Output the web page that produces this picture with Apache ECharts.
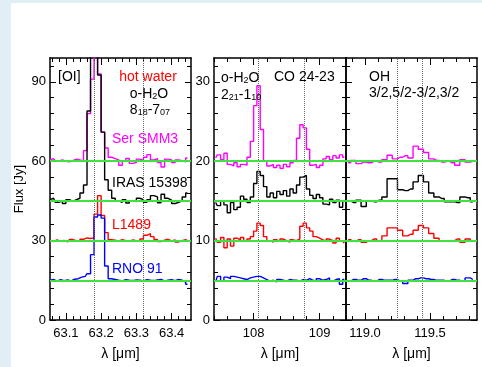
<!DOCTYPE html>
<html><head><meta charset="utf-8">
<script src="https://cdn.jsdelivr.net/npm/echarts@6/dist/echarts.min.js"></script>
<style>html,body{margin:0;padding:0;background:#e1eef6;}#c{width:482px;height:367px;}</style>
</head><body><div id="c"></div>
<script>
// ---------- DATA ----------
// Panel 1: [OI] 63.18 um region (wavelength bin centres, um)
const lam1 = [63.055,63.065,63.075,63.085,63.095,63.105,63.115,63.125,63.135,63.145,
              63.155,63.165,63.175,63.185,63.195,63.205,63.215,63.225,63.235,63.245,
              63.255,63.265,63.275,63.285,63.295,63.305,63.315,63.325,63.335,63.345,
              63.355,63.365,63.375,63.385,63.395,63.405,63.415,63.425,63.435,63.445];
const serSMM3_1 = [60.5,61,60,60.5,60,59.8,60.2,60.8,60.5,60,
                   64,78,91,140,93,71,65,61.5,61,60.5,
                   58.5,60.2,61,59.2,59.5,60.8,60.3,61.5,62.5,60.5,
                   61,59.5,57.8,60.8,60.5,59.5,60.5,60.2,59.8,61.2];
const iras_1    = [45.5,46,44.5,45,44,45.5,44.8,45.5,46,48,
                   51,79,140,140,92.6,71,53,49,46,45,
                   44.5,45.5,44.2,45,44.8,46,45.5,44.5,45.5,47,
                   46.5,44.3,47.5,46,45.3,44,44.5,45,46.5,48];
const l1489_1   = [30.2,29.6,30.3,29.8,30.1,29.5,30.4,30,29.7,30.5,
                   31,30.8,31,40,47,39.5,33,30.3,30.2,29.8,
                   30.4,30,29.7,30.3,30,29.8,30.6,32,32.6,31.5,
                   30.4,29.6,30.2,30.5,29.9,30.3,29.5,30,30.4,29.8];
const rno91_1   = [15,15.3,14.7,15.2,14.9,15.1,14.8,15.4,15.6,16.2,
                   16.5,17.5,24.7,38.9,39.7,38.5,20.4,15.6,15.3,15,
                   14.8,15.2,15,14.9,15.1,15,14.8,15.2,15,14.9,
                   15.1,15.3,14.8,15,15.2,14.9,15.3,15,14.3,13.5];
// Panel 2: o-H2O 2_21-1_10 and CO 24-23
const lam2 = [107.425,107.475,107.525,107.575,107.625,107.675,107.725,107.775,107.825,107.875,
              107.925,107.975,108.025,108.075,108.125,108.175,108.225,108.275,108.325,108.375,
              108.425,108.475,108.525,108.575,108.625,108.675,108.725,108.775,108.825,108.875,
              108.925,108.975,109.025,109.075,109.125,109.175,109.225,109.275,109.325,109.375];
const serSMM3_2 = [20.4,20.8,20.2,21,19.6,19.4,19.8,19.3,19.6,19.5,
                   20.5,22.5,27,29.5,24,20,19.4,19.6,19.2,19.5,
                   19.1,19.6,19.3,19.8,20.1,22.9,24.6,24.2,21.5,19.5,
                   19.6,19.2,19.5,20.3,20.6,20.2,20.7,20.4,20.8,20.5];
const iras_2    = [14.8,14.4,15,14.5,13.5,14.8,13.9,14.2,15.6,15.2,
                   14.8,15.5,17.2,18.7,18.2,16.8,15.5,16,15.4,16.2,
                   15.8,16.3,15.6,16.5,16,17,18,18.2,16.5,15.7,
                   15.3,15.8,15.4,14.6,14.5,15.2,14.8,15.1,14.2,15];
const l1489_2   = [10.3,9.8,10.4,9.1,10.2,9.3,10.3,10.1,10.4,9.9,
                   10.2,10.5,11.2,12.2,11.9,10.5,10,9.8,10.1,9.9,
                   10.2,10,9.8,10.1,10,10.2,11.8,12.2,11.6,11.2,
                   10.5,10.3,10.1,9.9,10.2,10,9.7,10.3,9.9,9.7];
const rno91_2   = [4.8,5.5,4.9,5.4,5.2,5.5,5.4,5.3,5.2,5.1,
                   5.3,5.4,5.5,5.5,5.3,5.1,4.9,5,4.8,5.1,
                   5,4.9,5.1,5,5,4.9,5.1,5,5.2,5,
                   4.9,5.2,5,5.1,5.3,4.9,5.1,5.2,4.5,5.1];
// Panel 3: OH 3/2,5/2-3/2,3/2 doublet
const lam3 = [118.87,118.91,118.95,118.99,119.03,119.07,119.11,119.15,119.19,119.23,
              119.27,119.31,119.35,119.39,119.43,119.47,119.51,119.55,119.59,119.63,
              119.67,119.71,119.75,119.79,119.83];
const serSMM3_3 = [19.8,20.1,19.7,19.9,19.8,20,19.9,20.2,20.75,20.3,
                   20.5,20.7,20.4,21.9,21.5,21.1,20.3,20.1,19.9,20,
                   19.8,19.5,20.2,19.9,20];
const iras_3    = [15,14.8,15.1,14.3,15,14.9,15.1,15.5,17.8,17.8,
                   16.4,16.3,16.5,17.4,18.2,17.4,16,15.5,15.3,14.9,
                   14.9,14.8,15.5,15.4,14.9];
const l1489_3   = [10.1,9.9,10.1,9.8,10,10.2,9.9,10.6,11.6,11.6,
                   11.3,10.6,10.8,11.3,11.9,11.6,10.9,10.3,10,9.9,
                   10,10.2,9.8,10.2,9.9];
const rno91_3   = [4.9,5.1,5,5.2,5,4.9,5.1,5,5,5.1,
                   4.9,4.6,5,5.2,5.3,5.2,5.1,5,5,4.9,
                   5.1,5,4.9,5.3,5.1];
// continuum offsets (green lines) and line rest wavelengths (dotted lines)
const base1 = [60,45,30,15];
const base23 = [20,15,10,5];
const lines1 = [63.184,63.324];
const lines2 = [108.073,108.763];
const lines3 = [119.245,119.44];
// axis ticks
const xTicks1 = [63.1,63.2,63.3,63.4];
const xTicks2 = [108,109];
const xTicks3 = [119.0,119.5];
const yTicks1 = [0,30,60,90];
const yTicks23 = [0,10,20,30];

// ---------- CHART ----------
const FONT = 'Liberation Sans, Arial, Helvetica, sans-serif';
const COLORS = ['#ff00ff','#000000','#ff0000','#0000ff'];
function range(a,b,s){const r=[];for(let v=a;v<=b+1e-9;v+=s){r.push(Math.round(v*10000)/10000);}return r;}
function minorOf(list, majors){return list.filter(v=>!majors.some(m=>Math.abs(m-v)<1e-6));}

const panels = [
  {left:50,width:141,xmin:63.055,xmax:63.455,ymax:99,xMaj:xTicks1,xMin:minorOf(range(63.06,63.44,0.02),xTicks1),
   yMaj:yTicks1,yMin:minorOf(range(0,96,6),yTicks1),xd:1,ylab:true,lam:lam1,
   ser:[serSMM3_1,iras_1,l1489_1,rno91_1],base:base1,lines:lines1,yname:'Flux [Jy]'},
  {left:214,width:132,xmin:107.4,xmax:109.4,ymax:33,xMaj:xTicks2,xMin:minorOf(range(107.4,109.4,0.2),xTicks2),
   yMaj:yTicks23,yMin:minorOf(range(0,32,2),yTicks23),xd:0,ylab:true,lam:lam2,
   ser:[serSMM3_2,iras_2,l1489_2,rno91_2],base:base23,lines:lines2,yname:''},
  {left:346,width:131,xmin:118.854,xmax:119.862,ymax:33,xMaj:xTicks3,xMin:minorOf(range(118.9,119.8,0.1),xTicks3),
   yMaj:yTicks23,yMin:minorOf(range(0,32,2),yTicks23),xd:1,ylab:false,lam:lam3,
   ser:[serSMM3_3,iras_3,l1489_3,rno91_3],base:base23,lines:lines3,yname:''}
];
const TOP=58, H=262;
const grid=[], xAxis=[], yAxis=[], series=[];
panels.forEach((p,i)=>{
  grid.push({left:p.left,top:TOP,width:p.width,height:H,containLabel:false});
  const lineStyle={color:'#000',width:1.5};
  const tickStyle={color:'#000',width:1};
  function xa(pos,major,label){
    return {type:'value',gridIndex:i,position:pos,min:p.xmin,max:p.xmax,
      splitLine:{show:false},
      axisLine:{show:major,onZero:false,lineStyle},
      axisTick:{show:true,inside:true,length:major?7:4,customValues:major?p.xMaj:p.xMin,lineStyle:tickStyle},
      axisLabel:{show:label,customValues:p.xMaj,formatter:v=>Number(v).toFixed(p.xd),
        color:'#000',fontFamily:FONT,fontSize:13,margin:7},
      name:label?'λ [μm]':'',nameLocation:'middle',nameGap:27,
      nameTextStyle:{color:'#000',fontFamily:FONT,fontSize:14}};
  }
  function ya(pos,major,label){
    return {type:'value',gridIndex:i,position:pos,min:0,max:p.ymax,
      splitLine:{show:false},
      axisLine:{show:major,onZero:false,lineStyle},
      axisTick:{show:true,inside:true,length:major?6:4,customValues:major?p.yMaj:p.yMin,lineStyle:tickStyle},
      axisLabel:{show:label,customValues:p.yMaj,color:'#000',fontFamily:FONT,fontSize:13,margin:4},
      name:label&&p.yname?p.yname:'',nameLocation:'middle',nameGap:24,
      nameTextStyle:{color:'#000',fontFamily:FONT,fontSize:13}};
  }
  const xb=xAxis.length;
  xAxis.push(xa('bottom',true,true), xa('bottom',false,false), xa('top',true,false), xa('top',false,false));
  const yb=yAxis.length;
  yAxis.push(ya('left',true,p.ylab), ya('left',false,false), ya('right',true,false), ya('right',false,false));
  p.ser.forEach((vals,k)=>{
    const s={type:'line',xAxisIndex:xb,yAxisIndex:yb,step:'middle',showSymbol:false,symbol:'none',
      data:p.lam.map((l,j)=>[l,vals[j]]),lineStyle:{color:COLORS[k],width:1.4},itemStyle:{color:COLORS[k]},
      z:3,silent:true,animation:false};
    if(k===0){
      s.markLine={silent:true,symbol:['none','none'],label:{show:false},animation:false,
        lineStyle:{color:'#666',type:'dotted',width:1},
        data:p.lines.map(l=>({xAxis:l}))};
    }
    series.push(s);
  });
  series.push({type:'line',xAxisIndex:xb,yAxisIndex:yb,showSymbol:false,symbol:'none',
    data:[[p.xmin,-10],[p.xmax,-10]],lineStyle:{width:0,opacity:0},z:4,silent:true,animation:false,
    markLine:{silent:true,symbol:['none','none'],label:{show:false},animation:false,
      lineStyle:{color:'#3fe23f',type:'solid',width:2},
      data:p.base.map(b=>({yAxis:b}))}});
});

function rich(fill){
  return {n:{fontSize:14,fontFamily:FONT,fill:fill,lineHeight:14,verticalAlign:'top',padding:[0,0,3,0]},
          s:{fontSize:9,fontFamily:FONT,fill:fill,lineHeight:9,verticalAlign:'bottom'}};
}
function txt(x,y,t,fill,align,isRich){
  const st={text:t,fill:fill,font:'14px '+FONT,textAlign:align||'left',textVerticalAlign:'middle'};
  if(isRich){st.rich=rich(fill);}
  return {type:'text',x:x,y:isRich?y+1.5:y,style:st,z:100,silent:true};
}
const graphic=[
  {type:'rect',shape:{x:11,y:3,width:471,height:364},style:{fill:'#ffffff'},z:-100,silent:true},
  txt(58,77,'[OI]','#000'),
  txt(148,77,'hot water','#ff0000','center'),
  txt(149,93,'{n|o-H}{s|2}{n|O}','#000','center',true),
  txt(150,108.5,'{n|8}{s|18}{n|-7}{s|07}','#000','center',true),
  txt(112,139,'Ser SMM3','#ff00ff'),
  txt(112,183.5,'IRAS 15398','#000'),
  txt(112,225.5,'L1489','#ff0000'),
  txt(112,269.5,'RNO 91','#0000ff'),
  txt(221,77,'{n|o-H}{s|2}{n|O}','#000','left',true),
  txt(221,93.5,'{n|2}{s|21}{n|-1}{s|10}','#000','left',true),
  txt(274,77,'CO 24-23','#000'),
  txt(369,77,'OH','#000'),
  txt(369,93.5,'3/2,5/2-3/2,3/2','#000')
];

const chart=echarts.init(document.getElementById('c'),null,{renderer:'canvas'});
chart.setOption({backgroundColor:'#e1eef6',animation:false,grid,xAxis,yAxis,series,graphic});
</script></body></html>
